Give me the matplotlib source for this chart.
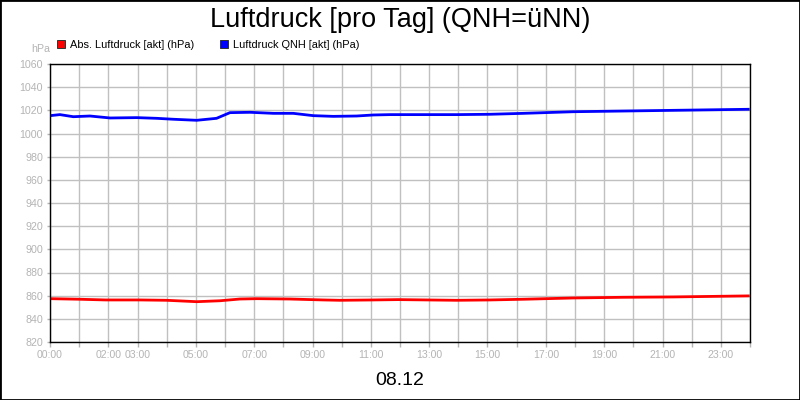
import matplotlib
matplotlib.use("Agg")
import matplotlib.pyplot as plt
from matplotlib.lines import Line2D
from matplotlib.patches import Rectangle

plt.rcParams["font.family"] = ["Liberation Sans", "DejaVu Sans"]

# =========================
# data
# =========================
qnh_hours = [0.0, 0.34, 0.8, 1.37, 2.06, 2.97, 3.66, 4.23, 5.03, 5.71, 6.17,
             6.86, 7.66, 8.34, 9.03, 9.71, 10.51, 11.09, 11.66, 13.94, 15.09,
             16.23, 17.94, 19.66, 21.37, 23.08, 23.94]
qnh_values = [1015.4, 1016.3, 1014.5, 1015.1, 1013.4, 1013.7, 1013.1, 1012.3,
              1011.4, 1013.1, 1018.0, 1018.3, 1017.4, 1017.4, 1015.4, 1014.8,
              1015.1, 1016.0, 1016.3, 1016.3, 1016.6, 1017.4, 1018.8, 1019.4,
              1020.0, 1020.6, 1020.9]

abs_hours = [0.0, 1.03, 1.9, 3.08, 4.0, 5.03, 5.83, 6.51, 7.09, 8.23, 9.37,
             9.94, 11.09, 11.94, 13.94, 15.09, 16.23, 17.94, 19.66, 21.37,
             23.08, 23.94]
abs_values = [857.4, 856.9, 856.3, 856.3, 856.0, 854.8, 855.6, 857.1, 857.4,
              857.1, 856.3, 856.0, 856.3, 856.6, 856.0, 856.3, 856.9, 858.0,
              858.6, 858.9, 859.5, 859.8]

hour_ticks = list(range(0, 25))
hour_labels = ["00:00", "", "02:00", "03:00", "", "05:00", "", "07:00", "",
               "09:00", "", "11:00", "", "13:00", "", "15:00", "", "17:00", "",
               "19:00", "", "21:00", "", "23:00", ""]
y_ticks = list(range(820, 1061, 20))

title = "Luftdruck [pro Tag] (QNH=üNN)"
date_label = "08.12"
series_names = ["Abs. Luftdruck [akt] (hPa)", "Luftdruck QNH [akt] (hPa)"]

# =========================
# figure
# =========================
fig = plt.figure(figsize=(8, 4), dpi=100)
ax = fig.add_axes([50 / 800, 1 - 342 / 400, 700 / 800, 278 / 400])

ax.plot(abs_hours, abs_values, color="#ff0000", linewidth=2)
ax.plot(qnh_hours, qnh_values, color="#0000ff", linewidth=2)

ax.set_xlim(0, 24)
ax.set_ylim(820, 1060)
ax.set_xticks(hour_ticks)
ax.set_xticklabels(hour_labels)
ax.set_yticks(y_ticks)
ax.grid(True, color="#c0c0c0", linewidth=1)
ax.set_axisbelow(True)

grey = "#b4b4b4"
ax.tick_params(axis="x", colors=grey, length=3.5, width=1, pad=2, labelsize=7.6)
ax.tick_params(axis="y", colors=grey, length=2, width=1, pad=3, labelsize=7.7)
for sp in ax.spines.values():
    sp.set_color("black")
    sp.set_linewidth(1)

# texts
fig.text(0.5, 1 - 27.3 / 400, title, ha="center", va="baseline", fontsize=19.5)
fig.text(0.5, 1 - 385 / 400, date_label, ha="center", va="baseline", fontsize=14)
fig.text(31 / 800, 1 - 52.5 / 400, "hPa", ha="left", va="baseline",
         fontsize=7.7, color=grey)

# legend
handles = [
    Line2D([], [], linestyle="none", marker="s", markersize=5.5,
           markerfacecolor="#ff0000", markeredgecolor="#333333", markeredgewidth=0.7),
    Line2D([], [], linestyle="none", marker="s", markersize=5.5,
           markerfacecolor="#0000ff", markeredgecolor="#333333", markeredgewidth=0.7),
]
fig.legend(handles, series_names, loc="center left",
           bbox_to_anchor=(57 / 800, 1 - 44.5 / 400), ncol=2, frameon=False,
           fontsize=7.9, handlelength=0.7, handletextpad=0.45,
           columnspacing=2.4, borderpad=0, borderaxespad=0)

# outer frame
fig.patches.append(Rectangle((0, 0), 1, 1, transform=fig.transFigure,
                             fill=False, edgecolor="black", linewidth=2))

fig.savefig("out.png", dpi=100)
